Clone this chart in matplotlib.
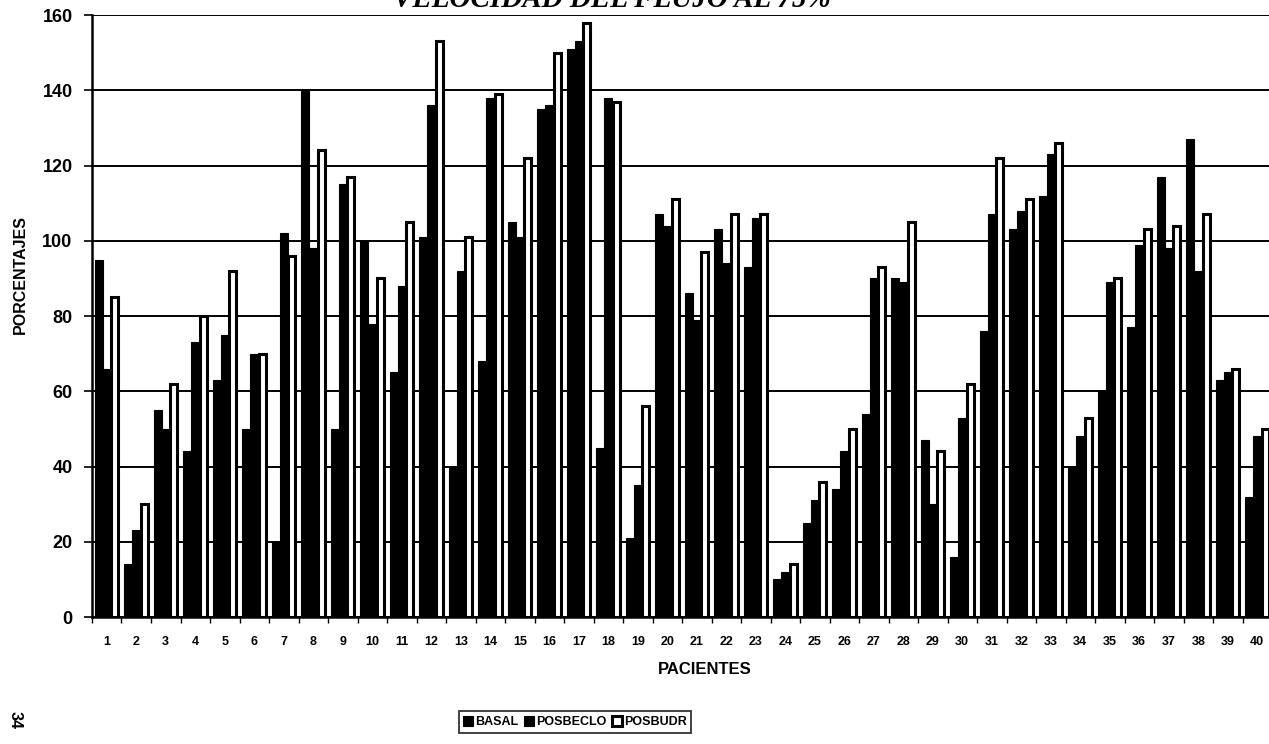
"""
Velocidad del flujo al 75%: basal vs posbeclo vs posbudr per patient.
"""

import matplotlib
matplotlib.use("Agg")
import matplotlib.pyplot as plt
import numpy as np

TITLE    = "VELOCIDAD DEL FLUJO AL 75%"
PATIENTS = [str(i) for i in range(1, 41)]

BASAL = [95, 14, 55, 44, 63, 50, 20, 140, 50, 100,
         65, 101, 40, 68, 105, 135, 151, 45, 21, 107,
         86, 103, 93, 10, 25, 34, 54, 90, 47, 16,
         76, 103, 112, 40, 60, 77, 117, 127, 63, 32]
POSBECLO = [66, 23, 50, 73, 75, 70, 102, 98, 115, 78,
            88, 136, 92, 138, 101, 136, 153, 138, 35, 104,
            79, 94, 106, 12, 31, 44, 90, 89, 30, 53,
            107, 108, 123, 48, 89, 99, 98, 92, 65, 48]
POSBUDR = [85, 30, 62, 80, 92, 70, 96, 124, 117, 90,
           105, 153, 101, 139, 122, 150, 158, 137, 56, 111,
           97, 107, 107, 14, 36, 50, 93, 105, 44, 62,
           122, 111, 126, 53, 90, 103, 104, 107, 66, 50]

FONT = "Liberation Sans"


def main():
    fig = plt.figure(figsize=(12.69, 7.44), dpi=100)
    ax = fig.add_axes([92 / 1269, 1 - 617 / 744, 1180 / 1269, 602 / 744])

    x = np.arange(len(PATIENTS))
    w = 0.27
    ax.bar(x - w, BASAL,    w, color="black", edgecolor="black", linewidth=0.8,
           label="BASAL", zorder=2)
    ax.bar(x,     POSBECLO, w, color="black", edgecolor="black", linewidth=0.8,
           label="POSBECLO", zorder=2)
    ax.bar(x + w, POSBUDR,  w * 0.85, color="white", edgecolor="black", linewidth=2.2,
           label="POSBUDR", zorder=2)

    ax.set_xlim(-0.5, len(PATIENTS) - 0.5)
    ax.set_ylim(0, 160)
    ax.set_yticks(range(0, 161, 20))
    ax.set_yticklabels([str(v) for v in range(0, 161, 20)],
                       fontsize=13, fontweight="bold", family=FONT)
    ax.set_xticks(x)
    ax.set_xticklabels(PATIENTS, fontsize=9, fontweight="bold", family=FONT)
    ax.set_xticks(np.arange(-0.5, len(PATIENTS), 1), minor=True)
    ax.tick_params(axis="x", which="major", length=0, pad=14)
    ax.tick_params(axis="x", which="minor", length=4, width=1, direction="out")
    ax.tick_params(axis="y", length=6, width=1.2, direction="out", pad=8)

    ax.yaxis.grid(True, color="black", linewidth=1.4, zorder=1)
    ax.set_axisbelow(True)
    for side in ("top", "right"):
        ax.spines[side].set_visible(False)
    ax.spines["left"].set_linewidth(1.8)
    ax.spines["bottom"].set_linewidth(1.8)

    fig.text(20 / 1269, 1 - 275 / 744, "PORCENTAJES", rotation=90, ha="center",
             va="center", fontsize=11.5, fontweight="bold", family=FONT)
    fig.text(705 / 1269, 1 - 670 / 744, "PACIENTES", ha="center", va="center",
             fontsize=12, fontweight="bold", family=FONT)
    # the page header sits mostly above the top edge
    fig.text(612 / 1269, 1 - 7 / 744, TITLE, ha="center", va="baseline",
             fontsize=21, fontweight="bold", style="italic", family="Liberation Serif")
    fig.text(15 / 1269, 1 - 720 / 744, "34", rotation=-90, ha="center", va="center",
             fontsize=11.5, fontweight="bold", family=FONT)

    leg = fig.legend(loc="center", bbox_to_anchor=(575 / 1269, 1 - 722 / 744), ncol=3,
                     frameon=True, fancybox=False, edgecolor="black",
                     handlelength=0.8, handleheight=0.9, handletextpad=0.2,
                     columnspacing=0.4, borderpad=0.35, borderaxespad=0,
                     prop={"family": FONT, "weight": "bold", "size": 9})
    leg.get_frame().set_linewidth(1.3)

    fig.savefig("out.png", dpi=100)


if __name__ == "__main__":
    main()
